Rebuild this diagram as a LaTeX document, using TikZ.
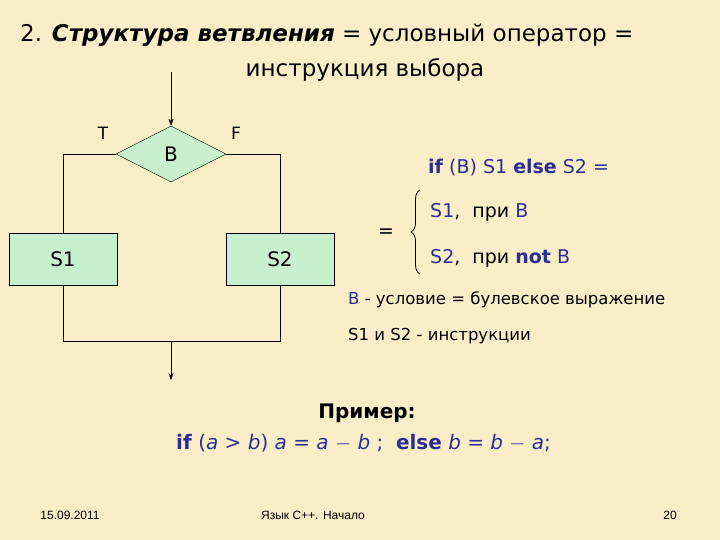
\documentclass[tikz,border=0pt]{standalone}
\usepackage{fontspec}
\setmainfont{DejaVu Sans}
\newfontfamily\foot{Liberation Sans}
\usetikzlibrary{shapes.geometric,arrows.meta,decorations.pathreplacing}
\definecolor{bg}{RGB}{250,238,200}
\definecolor{boxg}{RGB}{200,240,205}
\definecolor{bl}{RGB}{45,45,150}
\begin{document}
\begin{tikzpicture}[x=1pt,y=-1pt,
  blk/.style={draw,fill=boxg,minimum width=108pt,minimum height=52pt,inner sep=0,font=\fontsize{20}{20}\selectfont},
  dia/.style={diamond,draw,fill=boxg,minimum width=110pt,minimum height=56pt,inner sep=0,aspect=2,font=\fontsize{20}{20}\selectfont},
  txt/.style={anchor=west,inner sep=0,font=\fontsize{19}{19}\selectfont},
  arr/.style={-{Stealth[length=7pt,width=5pt]}},
  foottxt/.style={inner sep=0,font=\foot\fontsize{12}{12}\selectfont}]
\fill[bg] (0,0) rectangle (720,540);
\useasboundingbox (0,0) rectangle (720,540);
\node[txt,font=\fontsize{23}{23}\selectfont] (t1) at (20,35) {2. \textbf{\textit{Структура ветвления}} = условный оператор =};
\node[inner sep=0,font=\fontsize{23}{23}\selectfont] (t2) at (365,70) {инструкция выбора};
\node[dia] (B) at (171,154) {B};
\node[blk] (S1) at (63,259) {S1};
\node[blk] (S2) at (280,259) {S2};
\coordinate (top) at (171,72);
\coordinate (L) at (63,154);
\coordinate (R) at (280,154);
\coordinate (jl) at (63,341);
\coordinate (jr) at (280,341);
\coordinate (jm) at (171,341);
\coordinate (out) at (171,380);
\draw[arr] (top) -- (B.north);
\draw (B.west) -- (L) -- (S1.north);
\draw (B.east) -- (R) -- (S2.north);
\draw (S1.south) -- (jl) -- (jr) -- (S2.south);
\draw[arr] (jm) -- (out);
\node[inner sep=0,font=\fontsize{17}{17}\selectfont] (T) at (103,133) {T};
\node[inner sep=0,font=\fontsize{17}{17}\selectfont] (F) at (236,133) {F};
\node[txt,text=bl] (if) at (428,168) {\textbf{if} (B) S1 \textbf{else} S2 =};
\node[inner sep=0,font=\fontsize{19}{19}\selectfont] (eq) at (386,233) {=};
\draw[thick,decorate,decoration={brace,amplitude=9pt}] (420,274) -- (420,190);
\node[txt] (c1) at (430,212) {\textcolor{bl}{S1},\ \ при \textcolor{bl}{B}};
\node[txt] (c2) at (430,258) {\textcolor{bl}{S2},\ \ при \textcolor{bl}{\textbf{not} B}};
\node[txt,font=\fontsize{16.5}{16.5}\selectfont] (d1) at (348,300) {\textcolor{bl}{B} - условие = булевское выражение};
\node[txt,font=\fontsize{16.5}{16.5}\selectfont] (d2) at (348,336) {S1 и S2 - инструкции};
\node[inner sep=0,font=\fontsize{20}{20}\bfseries\selectfont] (ex) at (367,413) {Пример:};
\node[txt,text=bl,font=\fontsize{20}{20}\selectfont] (code) at (176,443) {\textbf{if} (\textit{a} > \textit{b}) \textit{a} = \textit{a} $-$ \textit{b} ; \ \textbf{else} \textit{b} = \textit{b} $-$ \textit{a};};
\node[foottxt] (date) at (70,515) {15.09.2011};
\node[foottxt] (ft) at (313,515) {Язык С++. Начало};
\node[foottxt] (pg) at (670,515) {20};
\end{tikzpicture}
\end{document}
